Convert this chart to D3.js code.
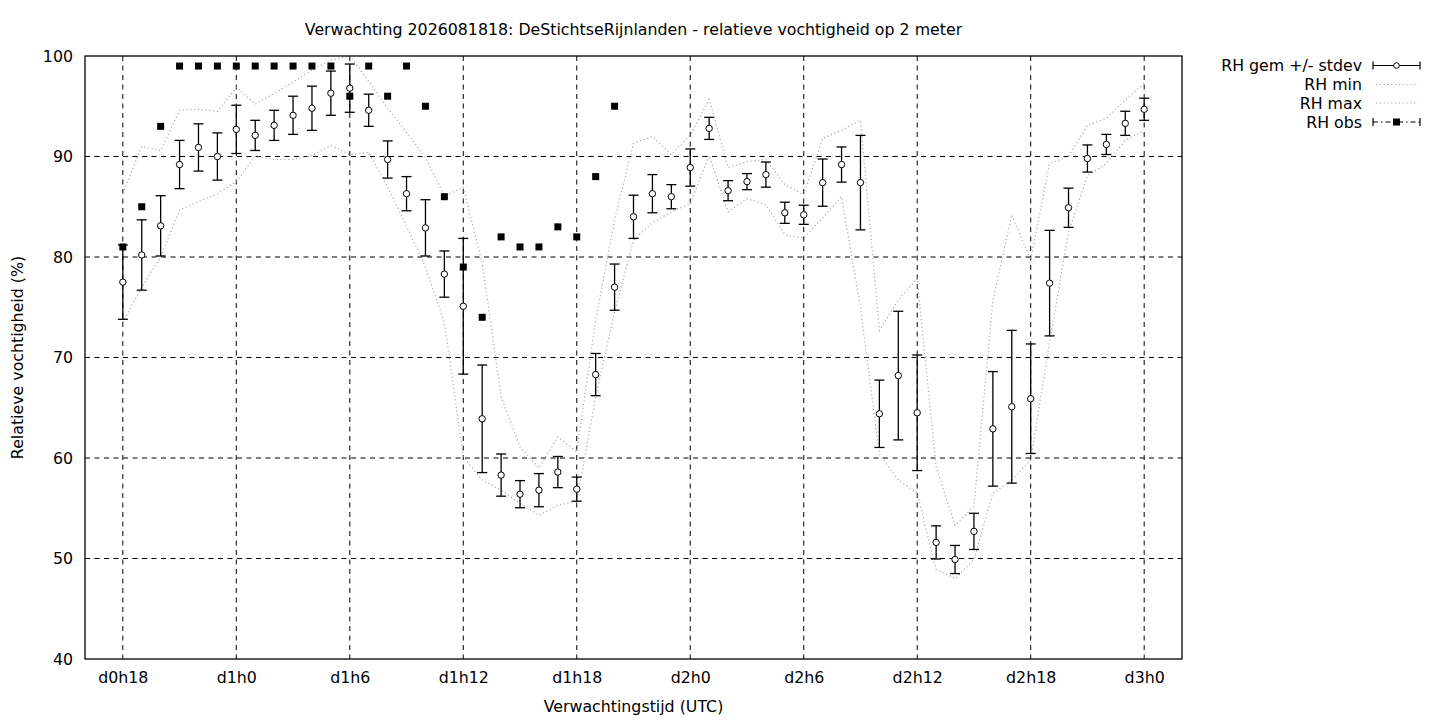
<!DOCTYPE html>
<html>
<head>
<meta charset="utf-8">
<script src="https://cdn.jsdelivr.net/npm/d3@7"></script>
<style>
  body { margin: 0; background: #fff; }
  svg text { font-family: "DejaVu Sans", sans-serif; font-size: 15.8px; fill: #000; }
</style>
</head>
<body>
<div id="chart"></div>
<script>
// forecast hours (since d0h0)
var hours = d3.range(18, 73);

// ensemble mean RH (%)
var rhMean = [77.5, 80.2, 83.1, 89.2, 90.9, 90.0, 92.7, 92.1, 93.1, 94.1,
  94.8, 96.3, 96.8, 94.6, 89.7, 86.3, 82.9, 78.3, 75.1, 63.9,
  58.3, 56.4, 56.8, 58.6, 56.9, 68.3, 77.0, 84.0, 86.3, 86.0,
  88.9, 92.8, 86.6, 87.5, 88.2, 84.4, 84.2, 87.4, 89.2, 87.4,
  64.4, 68.2, 64.5, 51.6, 49.9, 52.7, 62.9, 65.1, 65.9, 77.4,
  84.9, 89.8, 91.2, 93.3, 94.7];

// ensemble stdev
var rhStdev = [3.7, 3.5, 3.0, 2.4, 2.35, 2.35, 2.4, 1.5, 1.5, 1.9,
  2.2, 2.2, 2.4, 1.6, 1.85, 1.7, 2.8, 2.3, 6.75, 5.35,
  2.1, 1.35, 1.65, 1.55, 1.2, 2.1, 2.3, 2.15, 1.9, 1.2,
  1.85, 1.1, 1.0, 0.8, 1.25, 1.05, 0.95, 2.35, 1.75, 4.7,
  3.35, 6.4, 5.75, 1.65, 1.4, 1.8, 5.7, 7.6, 5.45, 5.25,
  1.95, 1.35, 1.0, 1.2, 1.1];

var rhMin = [73.5, 77.0, 80.0, 84.7, 85.5, 86.3, 87.5, 90.0, 89.7, 89.7,
  90.1, 91.1, 90.2, 90.4, 87.0, 83.1, 79.0, 73.5, 60.1, 57.8,
  56.8, 55.5, 54.3, 55.3, 55.7, 66.1, 74.5, 81.7, 83.4, 84.5,
  85.3, 90.1, 84.5, 85.8, 85.2, 82.2, 81.9, 83.9, 86.0, 75.0,
  60.4, 57.8, 56.5, 48.9, 48.0, 49.9, 56.5, 57.8, 59.8, 71.5,
  82.5, 88.1, 89.3, 91.6, 92.6];

var rhMax = [86.3, 91.0, 90.6, 94.6, 94.7, 94.5, 96.9, 95.2, 96.3, 97.4,
  98.6, 99.6, 100.0, 97.5, 94.8, 92.4, 89.9, 86.1, 86.9, 79.4,
  66.1, 61.1, 59.0, 62.1, 60.6, 73.7, 83.7, 91.3, 92.0, 90.2,
  92.1, 95.7, 88.9, 89.5, 89.7, 87.2, 86.2, 91.8, 92.6, 93.6,
  72.7, 75.7, 77.9, 59.1, 53.3, 55.2, 75.7, 84.2, 79.7, 89.3,
  90.0, 93.1, 93.8, 95.6, 97.3];

// observations, hour 18 .. 44
var obsHours = d3.range(18, 45);
var rhObs = [81, 85, 93, 99, 99, 99, 99, 99, 99, 99,
  99, 99, 96, 99, 96, 99, 95, 86, 79, 74,
  82, 81, 81, 83, 82, 88, 95];

var xTicks = [18, 24, 30, 36, 42, 48, 54, 60, 66, 72];
var yTicks = [40, 50, 60, 70, 80, 90, 100];

var svgWidth = 1440;
var svgHeight = 720;
var margin = { top: 56, right: 258, bottom: 61, left: 85 };
var width = svgWidth - margin.left - margin.right;
var height = svgHeight - margin.top - margin.bottom;

var svg = d3.select("#chart").append("svg")
  .attr("width", svgWidth)
  .attr("height", svgHeight);

var g = svg.append("g")
  .attr("transform", `translate(${margin.left}, ${margin.top})`);

var x = d3.scaleLinear().domain([16, 74]).range([0, width]);
var y = d3.scaleLinear().domain([40, 100]).range([height, 0]);

// grid
g.selectAll(".hgrid")
  .data(yTicks.filter(d => d > 40 && d < 100))
  .enter().append("line")
  .attr("x1", 0).attr("x2", width)
  .attr("y1", d => y(d)).attr("y2", d => y(d))
  .attr("stroke", "#000").attr("stroke-width", 1)
  .attr("stroke-dasharray", "5,4.5");

g.selectAll(".vgrid")
  .data(xTicks)
  .enter().append("line")
  .attr("x1", d => x(d)).attr("x2", d => x(d))
  .attr("y1", 0).attr("y2", height)
  .attr("stroke", "#000").attr("stroke-width", 1)
  .attr("stroke-dasharray", "5,4.5");

// axes
var xAxis = d3.axisBottom(x)
  .tickValues(xTicks)
  .tickSize(0)
  .tickPadding(13)
  .tickFormat(h => "d" + Math.floor(h / 24) + "h" + (h % 24));

var yAxis = d3.axisLeft(y)
  .tickValues(yTicks)
  .tickSize(0)
  .tickPadding(12);

var xg = g.append("g")
  .attr("transform", `translate(0, ${height})`)
  .call(xAxis);
var yg = g.append("g").call(yAxis);
[xg, yg].forEach(function (a) {
  a.select(".domain").remove();
  a.selectAll("text").style("font-size", "15.8px").style("font-family", "DejaVu Sans, sans-serif");
});

// min / max dotted lines
var line = d3.line()
  .x((d, i) => x(hours[i]))
  .y(d => y(d));

[rhMin, rhMax].forEach(function (s) {
  g.append("path")
    .datum(s)
    .attr("d", line)
    .attr("fill", "none")
    .attr("stroke", "#a8a8a8")
    .attr("stroke-width", 1.2)
    .attr("stroke-dasharray", "1.2,2.6");
});

// stdev error bars
var cap = 5;
var bars = g.selectAll(".bar")
  .data(hours)
  .enter().append("g");

bars.append("line")
  .attr("x1", d => x(d)).attr("x2", d => x(d))
  .attr("y1", (d, i) => y(rhMean[i] + rhStdev[i]))
  .attr("y2", (d, i) => y(rhMean[i] - rhStdev[i]))
  .attr("stroke", "#000").attr("stroke-width", 1.3);

bars.append("line")
  .attr("x1", d => x(d) - cap).attr("x2", d => x(d) + cap)
  .attr("y1", (d, i) => y(rhMean[i] + rhStdev[i]))
  .attr("y2", (d, i) => y(rhMean[i] + rhStdev[i]))
  .attr("stroke", "#000").attr("stroke-width", 1.3);

bars.append("line")
  .attr("x1", d => x(d) - cap).attr("x2", d => x(d) + cap)
  .attr("y1", (d, i) => y(rhMean[i] - rhStdev[i]))
  .attr("y2", (d, i) => y(rhMean[i] - rhStdev[i]))
  .attr("stroke", "#000").attr("stroke-width", 1.3);

bars.append("circle")
  .attr("cx", d => x(d))
  .attr("cy", (d, i) => y(rhMean[i]))
  .attr("r", 3.2)
  .attr("fill", "#fff")
  .attr("stroke", "#000")
  .attr("stroke-width", 1);

// observations
g.selectAll(".obs")
  .data(obsHours)
  .enter().append("rect")
  .attr("x", d => x(d) - 3.5)
  .attr("y", (d, i) => y(rhObs[i]) - 3.5)
  .attr("width", 7)
  .attr("height", 7)
  .attr("fill", "#000");

// frame
g.append("rect")
  .attr("width", width).attr("height", height)
  .attr("fill", "none").attr("stroke", "#000").attr("stroke-width", 1.3);

// title and axis labels
svg.append("text")
  .attr("x", margin.left + width / 2)
  .attr("y", 35)
  .attr("text-anchor", "middle")
  .text("Verwachting 2026081818: DeStichtseRijnlanden - relatieve vochtigheid op 2 meter");

svg.append("text")
  .attr("x", margin.left + width / 2)
  .attr("y", 712)
  .attr("text-anchor", "middle")
  .text("Verwachtingstijd (UTC)");

svg.append("text")
  .attr("transform", `translate(23, ${margin.top + height / 2}) rotate(-90)`)
  .attr("text-anchor", "middle")
  .text("Relatieve vochtigheid (%)");

// legend
var legend = svg.append("g");
var lx0 = 1373, lx1 = 1420, ltx = 1362;
var rows = ["RH gem +/- stdev", "RH min", "RH max", "RH obs"];
var rowY = [65.5, 84.5, 103, 122];

rows.forEach(function (r, i) {
  legend.append("text")
    .attr("x", ltx).attr("y", rowY[i] + 5.5)
    .attr("text-anchor", "end")
    .text(r);
});

// gem sample
legend.append("line").attr("x1", lx0).attr("x2", lx1).attr("y1", rowY[0]).attr("y2", rowY[0])
  .attr("stroke", "#000").attr("stroke-width", 1.2);
[lx0, lx1].forEach(function (cx) {
  legend.append("line").attr("x1", cx).attr("x2", cx).attr("y1", rowY[0] - 4).attr("y2", rowY[0] + 4)
    .attr("stroke", "#000").attr("stroke-width", 1.2);
});
legend.append("circle").attr("cx", (lx0 + lx1) / 2).attr("cy", rowY[0]).attr("r", 2.8)
  .attr("fill", "#fff").attr("stroke", "#000");

// min / max samples
[1, 2].forEach(function (i) {
  legend.append("line").attr("x1", lx0 + 3).attr("x2", lx1 - 2).attr("y1", rowY[i]).attr("y2", rowY[i])
    .attr("stroke", "#a8a8a8").attr("stroke-width", 1.2).attr("stroke-dasharray", "1.2,2.6");
});

// obs sample
legend.append("line").attr("x1", lx0).attr("x2", lx1).attr("y1", rowY[3]).attr("y2", rowY[3])
  .attr("stroke", "#000").attr("stroke-width", 1.2).attr("stroke-dasharray", "5,3,1.5,3");
[lx0, lx1].forEach(function (cx) {
  legend.append("line").attr("x1", cx).attr("x2", cx).attr("y1", rowY[3] - 4).attr("y2", rowY[3] + 4)
    .attr("stroke", "#000").attr("stroke-width", 1.2);
});
legend.append("rect").attr("x", (lx0 + lx1) / 2 - 3.5).attr("y", rowY[3] - 3.5)
  .attr("width", 7).attr("height", 7).attr("fill", "#000");
</script>
</body>
</html>
